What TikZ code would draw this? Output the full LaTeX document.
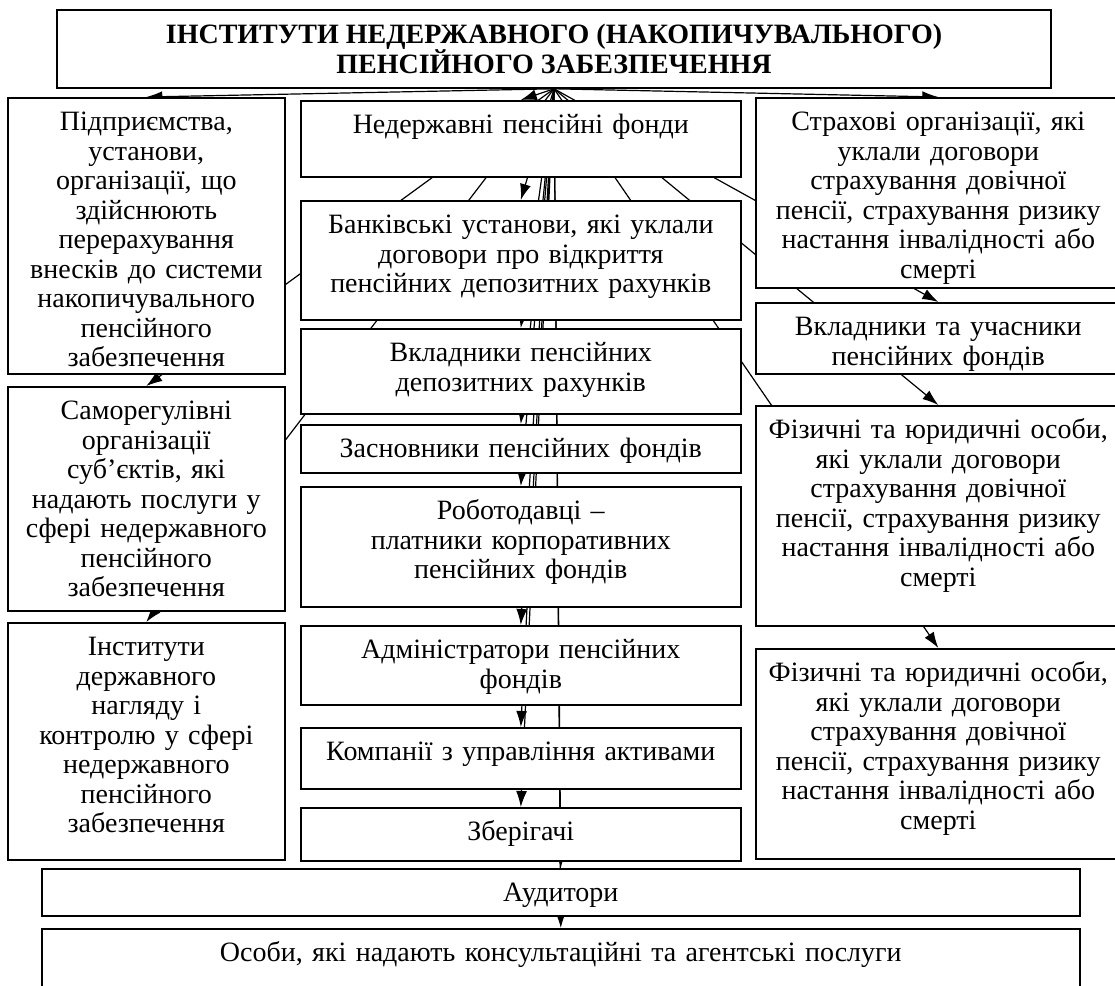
\documentclass[tikz,border=0pt]{standalone}
\usepackage{fontspec}
\setmainfont{Liberation Serif}
\usetikzlibrary{arrows.meta,backgrounds}
\begin{document}
\begin{tikzpicture}[x=1pt,y=-1pt,
    font=\fontsize{28}{29.5}\selectfont,
    >={Latex[length=16pt,width=11pt]},
    blk/.style={draw,fill=white,line width=1.6pt,anchor=north west,
      inner xsep=3pt,inner ysep=13pt,align=center,text height=20pt},
    wh/.style 2 args={minimum width=#1pt,text width=#1pt-8pt,
      text depth=#2pt-46pt,minimum height=#2pt},
    arr/.style={->,line width=1.2pt}]
  \useasboundingbox (0,0) rectangle (1115,985);
  \node[draw,fill=white,line width=1.6pt,minimum width=994pt,minimum height=78pt,
    align=center,font=\fontsize{28}{29.5}\selectfont\bfseries] (top) at (554,49)
    {ІНСТИТУТИ НЕДЕРЖАВНОГО (НАКОПИЧУВАЛЬНОГО)\\ ПЕНСІЙНОГО ЗАБЕЗПЕЧЕННЯ};
  % left column
  \node[blk,wh={277}{276}] (l1) at (7,97) {Підприємства,\\ установи,\\ організації, що\\
    здійснюють\\ перерахування\\ внесків до системи\\ накопичувального\\ пенсійного\\ забезпечення};
  \node[blk,wh={277}{224}] (l2) at (7,386) {Саморегулівні\\ організації\\ суб’єктів, які\\
    надають послуги у\\ сфері недержавного\\ пенсійного\\ забезпечення};
  \node[blk,wh={277}{237}] (l3) at (7,622) {Інститути\\ державного\\ нагляду і\\
    контролю у сфері\\ недержавного\\ пенсійного\\ забезпечення};
  % middle column
  \node[blk,wh={440}{76}] (m1) at (300,100) {Недержавні пенсійні фонди};
  \node[blk,wh={440}{119}] (m2) at (300,200) {Банківські установи, які уклали\\
    договори про відкриття\\ пенсійних депозитних рахунків};
  \node[blk,wh={440}{85}] (m3) at (300,328) {Вкладники пенсійних\\ депозитних рахунків};
  \node[blk,wh={440}{48}] (m4) at (300,424) {Засновники пенсійних фондів};
  \node[blk,wh={440}{120}] (m5) at (300,486) {Роботодавці –\\ платники корпоративних\\ пенсійних фондів};
  \node[blk,wh={440}{79}] (m6) at (300,625) {Адміністратори пенсійних\\ фондів};
  \node[blk,wh={440}{61}] (m7) at (300,727) {Компанії з управління активами};
  \node[blk,wh={440}{53}] (m8) at (300,807) {Зберігачі};
  % right column
  \node[blk,wh={365}{190}] (r1) at (755,97) {Страхові організації, які\\ уклали договори\\
    страхування довічної\\ пенсії, страхування ризику\\ настання інвалідності або\\ смерті};
  \node[blk,wh={365}{71}] (r2) at (755,302) {Вкладники та учасники\\ пенсійних фондів};
  \node[blk,wh={365}{220}] (r3) at (755,405) {Фізичні та юридичні особи,\\ які уклали договори\\
    страхування довічної\\ пенсії, страхування ризику\\ настання інвалідності або\\ смерті};
  \node[blk,wh={365}{210}] (r4) at (755,648) {Фізичні та юридичні особи,\\ які уклали договори\\
    страхування довічної\\ пенсії, страхування ризику\\ настання інвалідності або\\ смерті};
  % bottom rows
  \node[blk,wh={1038}{47}] (aud) at (41,868) {Аудитори};
  \node[blk,wh={1038}{80}] (cons) at (41,928) {Особи, які надають консультаційні та агентські послуги};
  \begin{pgfonlayer}{background}
    \foreach \n in {l1,l2,l3,m1,m2,m3,m4,m5,m6,m7,m8,r1,r2,r3,r4,aud,cons}
      \draw[arr] (top.south) -- (\n.north);
  \end{pgfonlayer}
\end{tikzpicture}
\end{document}
